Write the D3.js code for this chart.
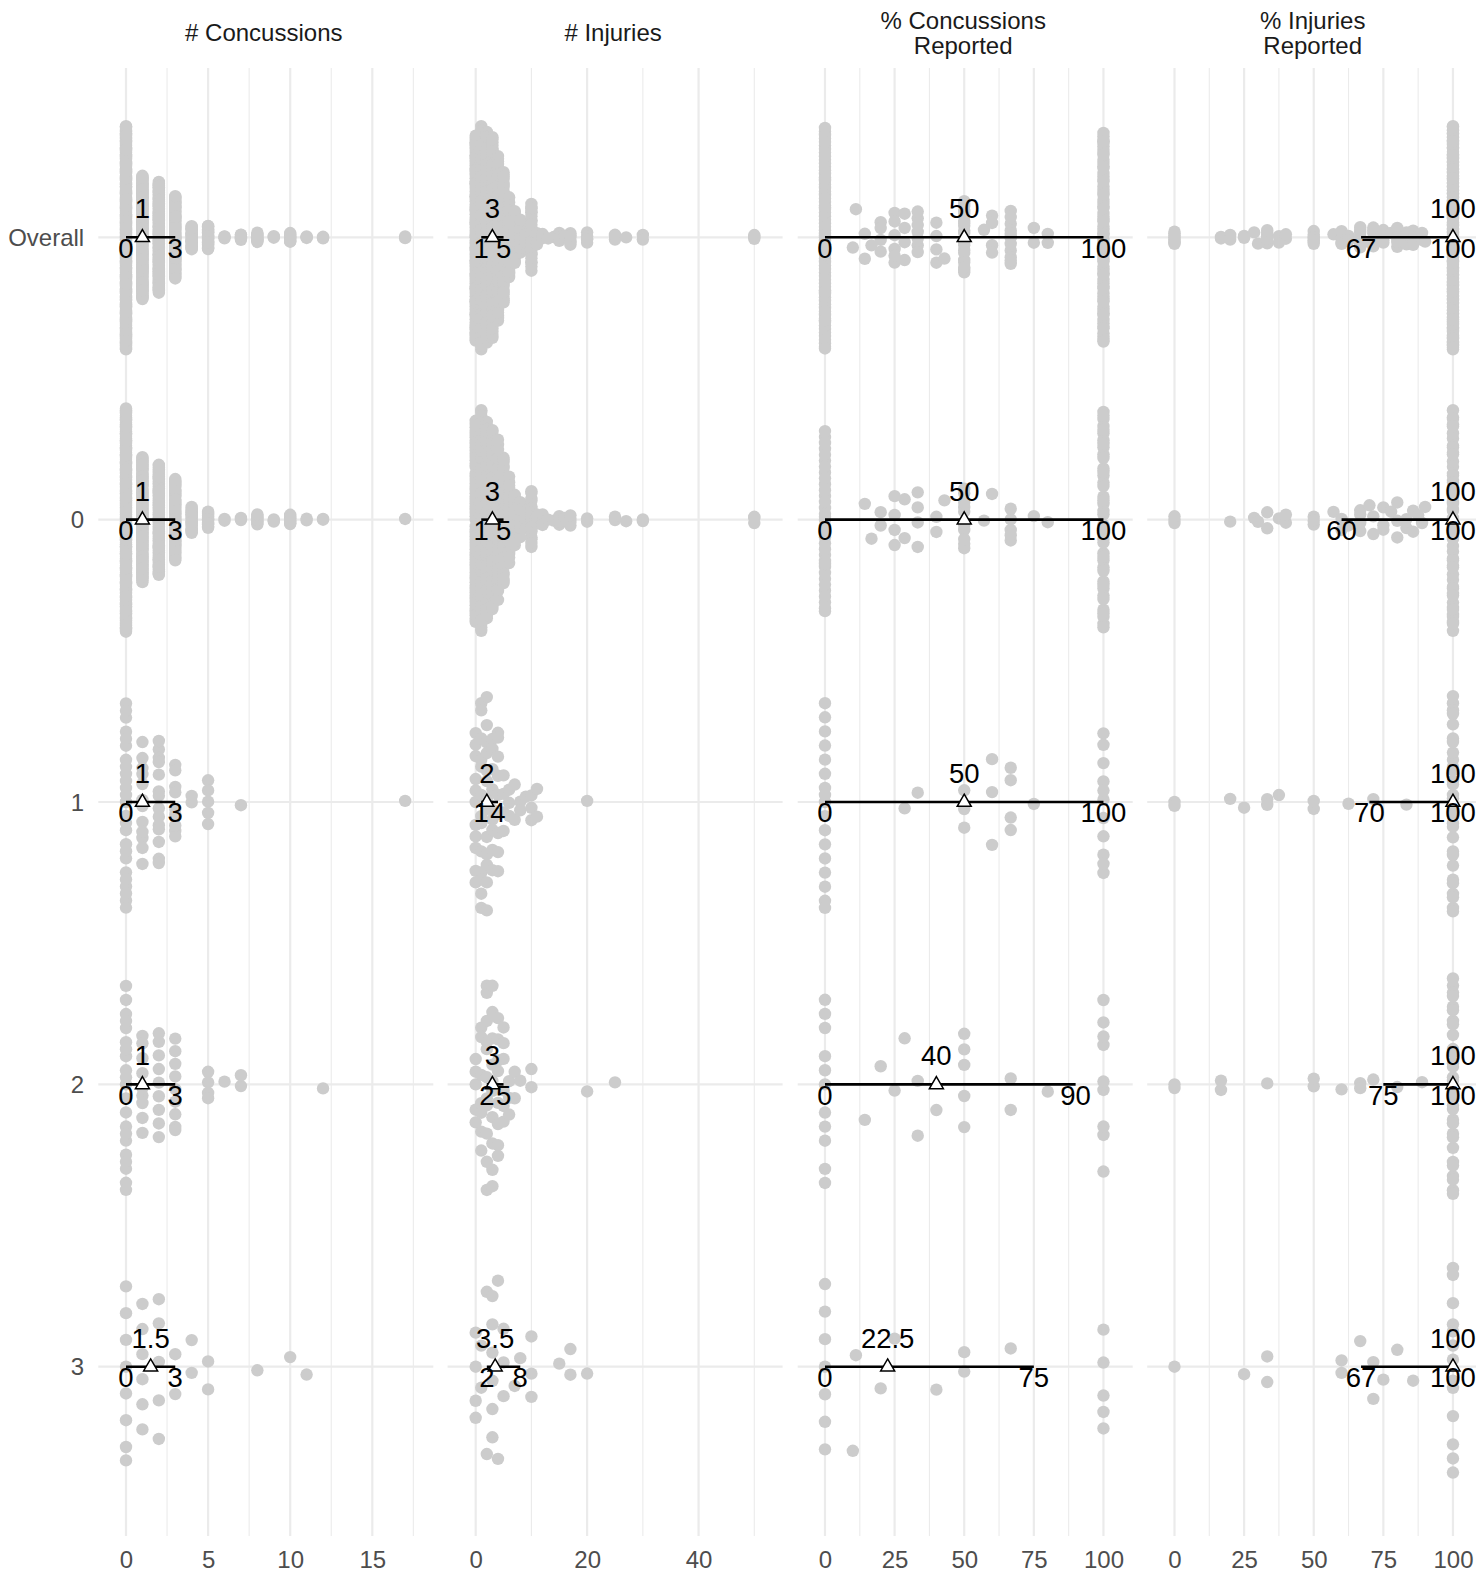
<!DOCTYPE html>
<html><head><meta charset="utf-8">
<script src="https://cdn.jsdelivr.net/npm/d3@7"></script>
<style>body{margin:0;background:#fff} svg text{font-family:"Liberation Sans",Arial,sans-serif}</style>
</head><body><svg id="c" width="1476" height="1572"></svg>
<script>
// ---------------- data ----------------
const rowLabels = ["Overall", "0", "1", "2", "3"];
const groupNames = ["0", "1", "2", "3"];
const stripTitles = [["# Concussions"], ["# Injuries"], ["% Concussions", "Reported"], ["% Injuries", "Reported"]];

// [value, number of players] per group
const concG0 = [[0,160],[1,90],[2,78],[3,58],[4,20],[5,12],[6,2],[7,3],[8,8],[9,3],[10,8],[11,2],[12,2],[17,1]];
const concG1 = [[0,25],[1,12],[2,14],[3,9],[4,2],[5,5],[7,1],[17,1]];
const concG2 = [[0,21],[1,9],[2,9],[3,9],[5,4],[6,1],[7,2],[12,1]];
const concG3 = [[0,8],[1,6],[2,5],[3,2],[4,2],[5,2],[8,1],[10,1],[11,1]];

const injG0 = [[0,60],[1,62],[2,54],[3,50],[4,44],[5,36],[6,24],[7,15],[8,10],[9,5],[10,18],[11,3],[12,3],[13,1],[14,1],[15,4],[16,1],[17,4],[20,2],[25,2],[27,1],[30,2],[50,3]];
const injG1 = [[0,11],[1,13],[2,13],[3,9],[4,9],[5,4],[6,3],[7,2],[8,2],[9,1],[10,3],[11,2],[20,1]];
const injG2 = [[0,5],[1,7],[2,11],[3,10],[4,8],[5,6],[6,3],[7,2],[8,1],[10,2],[20,1],[25,1]];
const injG3 = [[0,4],[1,2],[2,2],[3,6],[4,2],[5,3],[7,1],[8,1],[10,3],[15,1],[17,2],[20,1]];

const pconcG0 = [[0,34],[14.3,1],[16.7,1],[20,2],[25,4],[28.6,2],[33.3,4],[40,2],[42.9,1],[50,10],[57.1,1],[60,1],[66.7,5],[75,1],[80,1],[100,41]];
const pconcG1 = [[0,17],[28.6,1],[33.3,1],[50,3],[60,3],[66.7,4],[75,1],[100,11]];
const pconcG2 = [[0,11],[14.3,1],[20,1],[25,1],[28.6,1],[33.3,2],[40,1],[50,5],[66.7,2],[80,1],[100,9]];
const pconcG3 = [[0,7],[10,1],[11.1,1],[20,1],[25,1],[40,1],[50,2],[66.7,1],[100,5]];

const pinjG0 = [[0,3],[20,1],[28.6,1],[30,1],[33.3,2],[37.5,1],[40,2],[50,3],[57.1,1],[60,2],[62.5,1],[66.7,4],[70,1],[71.4,2],[75,3],[77.8,1],[80,3],[83.3,2],[85.7,2],[87.5,1],[88.9,1],[90,1],[100,50]];
const pinjG1 = [[0,2],[20,1],[25,1],[33.3,2],[37.5,1],[50,2],[62.5,1],[71.4,1],[83.3,1],[100,29]];
const pinjG2 = [[0,2],[16.7,2],[33.3,1],[50,2],[60,1],[66.7,2],[71.4,1],[80,1],[88.9,1],[100,30]];
const pinjG3 = [[0,1],[25,1],[33.3,2],[60,2],[66.7,1],[71.4,2],[75,1],[80,1],[85.7,1],[100,13]];

// summary labels per row (Overall, 0, 1, 2, 3)
const concQ1 = [0, 0, 0, 0, 0],      concMed = [1, 1, 1, 1, 1.5],       concQ3 = [3, 3, 3, 3, 3];
const injQ1 = [1, 1, 1, 2, 2],       injMed = [3, 3, 2, 3, 3.5],        injQ3 = [5, 5, 4, 5, 8];
const pconcQ1 = [0, 0, 0, 0, 0],     pconcMed = [50, 50, 50, 40, 22.5], pconcQ3 = [100, 100, 100, 90, 75];
const pinjQ1 = [67, 60, 70, 75, 67], pinjMed = [100, 100, 100, 100, 100], pinjQ3 = [100, 100, 100, 100, 100];

const concTicks = [0, 5, 10, 15], concMinor = [2.5, 7.5, 12.5, 17.5];
const injTicks = [0, 20, 40], injMinor = [10, 30, 50];
const pctTicks = [0, 25, 50, 75, 100], pctMinor = [12.5, 37.5, 62.5, 87.5];

// ---------------- helpers ----------------
const expand = pairs => pairs.flatMap(([v, n]) => d3.range(n).map(() => v));
function q7(s, p) { const h = (s.length - 1) * p, lo = Math.floor(h); return s[lo] + (h - lo) * (s[Math.min(lo + 1, s.length - 1)] - s[lo]); }
function bwNrd0(x) {
  const s = d3.deviation(x), so = x.slice().sort((a, b) => a - b);
  let lo = Math.min(s, (q7(so, .75) - q7(so, .25)) / 1.34);
  if (!(lo > 0)) lo = s || Math.abs(x[0]) || 1;
  return 0.9 * lo * Math.pow(x.length, -0.2);
}
function vdc(i) { let r = 0, f = 0.5; while (i > 0) { r += f * (i & 1); i >>= 1; f /= 2; } return r; }
function quasirandom(values) { // values sorted ascending; returns offsets in [-1,1]
  const n = values.length; if (n < 2) return values.map(() => 0);
  const bw = bwNrd0(values) * 0.5;
  const dens = v => { let s = 0; for (const x of values) { const z = (v - x) / bw; s += Math.exp(-0.5 * z * z); } return s; };
  const lo = values[0] - 3 * bw, hi = values[n - 1] + 3 * bw;
  let mx = 0; for (let k = 0; k < 1024; k++) mx = Math.max(mx, dens(lo + (hi - lo) * k / 1023));
  const cache = new Map();
  return values.map((v, i) => { if (!cache.has(v)) cache.set(v, dens(v) / mx); return (vdc(i + 1) - 0.5) * 2 * cache.get(v); });
}

// ---------------- layout ----------------
const svg = d3.select("#c");
const panelW = 335, panelTop = 67.9, panelBottom = 1536.1;
const panelLefts = [98.3, 447.6, 797.7, 1147.2];
const y = d3.scalePoint().domain(rowLabels).range([panelTop, panelBottom]).padding(0.6);
const step = y.step();

const columns = [
  { groups: [concG0, concG1, concG2, concG3], dom: [-1.687, 18.715], ticks: concTicks, minor: concMinor, q1: concQ1, med: concMed, q3: concQ3 },
  { groups: [injG0, injG1, injG2, injG3], dom: [-5.04, 55.08], ticks: injTicks, minor: injMinor, q1: injQ1, med: injMed, q3: injQ3 },
  { groups: [pconcG0, pconcG1, pconcG2, pconcG3], dom: [-9.8, 110.5], ticks: pctTicks, minor: pctMinor, q1: pconcQ1, med: pconcMed, q3: pconcQ3 },
  { groups: [pinjG0, pinjG1, pinjG2, pinjG3], dom: [-9.8, 110.5], ticks: pctTicks, minor: pctMinor, q1: pinjQ1, med: pinjMed, q3: pinjQ3 }
];

const grid = "#ebebeb", fsAxis = 24, fsStrip = 24, fsLab = 27.5;

columns.forEach((col, ci) => {
  const L = panelLefts[ci];
  const x = d3.scaleLinear().domain(col.dom).range([L, L + panelW]);
  const g = svg.append("g");
  // grid
  g.selectAll(".mn").data(col.minor.filter(v => v >= col.dom[0] && v <= col.dom[1])).join("line")
    .attr("x1", d => x(d)).attr("x2", d => x(d)).attr("y1", panelTop).attr("y2", panelBottom)
    .attr("stroke", grid).attr("stroke-width", 1.1);
  g.selectAll(".mj").data(col.ticks).join("line")
    .attr("x1", d => x(d)).attr("x2", d => x(d)).attr("y1", panelTop).attr("y2", panelBottom)
    .attr("stroke", grid).attr("stroke-width", 2.2);
  g.selectAll(".hr").data(rowLabels).join("line")
    .attr("x1", L).attr("x2", L + panelW).attr("y1", d => y(d)).attr("y2", d => y(d))
    .attr("stroke", grid).attr("stroke-width", 2.2);
  // x tick labels
  const ax = d3.axisBottom(x).tickValues(col.ticks).tickSize(0).tickPadding(0);
  const axg = g.append("g").attr("transform", `translate(0,1567.6)`).call(ax);
  axg.select(".domain").remove();
  axg.selectAll("text").attr("font-size", fsAxis).attr("fill", "#4d4d4d").attr("dy", null).attr("y", 0)
    .attr("font-family", '"Liberation Sans",Arial,sans-serif');

  // strip title
  const st = g.append("text").attr("text-anchor", "middle").attr("fill", "#1a1a1a").attr("font-size", fsStrip);
  const lines = stripTitles[ci];
  const cx = L + panelW / 2 - 2;
  if (lines.length === 1) st.append("tspan").attr("x", cx).attr("y", 40.8).text(lines[0]);
  else lines.forEach((t, k) => st.append("tspan").attr("x", cx).attr("y", 28.5 + 25 * k).text(t));

  // points
  const rowsData = [col.groups.flatMap(expand)].concat(col.groups.map(expand));
  rowsData.forEach((vals, ri) => {
    const sorted = vals.slice().sort((a, b) => a - b);
    const off = quasirandom(sorted);
    const cy = y(rowLabels[ri]);
    g.append("g").selectAll("circle").data(sorted).join("circle")
      .attr("cx", d => x(d)).attr("cy", (d, i) => cy - off[i] * 0.4 * step)
      .attr("r", 6.2).attr("fill", "#cccccc");
  });
  // summaries
  rowLabels.forEach((r, ri) => {
    const cy = y(r), q1 = col.q1[ri], md = col.med[ri], q3 = col.q3[ri];
    g.append("line").attr("x1", x(q1)).attr("x2", x(q3)).attr("y1", cy).attr("y2", cy)
      .attr("stroke", "#000").attr("stroke-width", 2.6);
    const mx = x(md);
    g.append("path").attr("d", `M${mx},${cy - 7.8}L${mx + 7},${cy + 4.3}L${mx - 7},${cy + 4.3}Z`)
      .attr("fill", "#fff").attr("stroke", "#000").attr("stroke-width", 1.5);
    g.append("text").attr("x", mx).attr("y", cy - 18.9).attr("text-anchor", "middle").attr("font-size", fsLab).attr("fill", "#000").text(md);
    g.append("text").attr("x", x(q1)).attr("y", cy + 20.2).attr("text-anchor", "middle").attr("font-size", fsLab).attr("fill", "#000").text(q1);
    g.append("text").attr("x", x(q3)).attr("y", cy + 20.2).attr("text-anchor", "middle").attr("font-size", fsLab).attr("fill", "#000").text(q3);
  });
});

// y-axis labels
svg.append("g").selectAll("text").data(rowLabels).join("text")
  .attr("x", 84.2).attr("y", d => y(d)).attr("dy", "0.36em").attr("text-anchor", "end")
  .attr("font-size", fsAxis).attr("fill", "#4d4d4d").text(d => d);
</script></body></html>
